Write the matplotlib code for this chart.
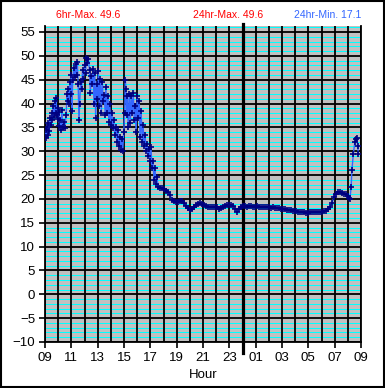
import matplotlib
matplotlib.use("Agg")
from matplotlib import pyplot as plt
from matplotlib.ticker import FixedLocator, MultipleLocator
from matplotlib.patches import Rectangle

## Data: hours since 09:00 and reading
hours = [0.00, 0.05, 0.10, 0.15, 0.20, 0.25, 0.30, 0.38, 0.45, 0.50, 0.55, 0.62, 0.68, 0.75,
         0.80, 0.85, 0.90, 0.95, 1.00, 1.05, 1.10, 1.15, 1.22, 1.28, 1.35, 1.42, 1.50, 1.60,
         1.68, 1.72, 1.78, 1.85, 1.90, 1.95, 2.00, 2.05, 2.10, 2.18, 2.25, 2.32, 2.40, 2.45,
         2.52, 2.58, 2.63, 2.70, 2.78, 2.85, 2.92, 3.00, 3.08, 3.15, 3.22, 3.30, 3.38, 3.45,
         3.52, 3.58, 3.65, 3.72, 3.78, 3.85, 3.92, 3.98, 4.05, 4.12, 4.20, 4.28, 4.35, 4.42,
         4.50, 4.58, 4.62, 4.70, 4.78, 4.85, 4.92, 5.00, 5.08, 5.15, 5.22, 5.30, 5.38, 5.45,
         5.52, 5.60, 5.68, 5.75, 5.82, 5.90, 5.98, 6.05, 6.10, 6.15, 6.20, 6.25, 6.32, 6.40,
         6.48, 6.55, 6.62, 6.70, 6.78, 6.85, 6.92, 7.00, 7.08, 7.15, 7.22, 7.30, 7.38, 7.45,
         7.52, 7.60, 7.68, 7.75, 7.82, 7.90, 7.97, 8.05, 8.12, 8.20, 8.28, 8.35, 8.42, 8.50,
         8.60, 8.75, 8.90, 9.05, 9.20, 9.35, 9.50, 9.65, 9.80, 9.95, 10.10, 10.25, 10.40, 10.55,
         10.70, 10.85, 11.00, 11.15, 11.30, 11.45, 11.60, 11.75, 11.90, 12.05, 12.20, 12.35,
         12.50, 12.65, 12.80, 12.95, 13.10, 13.25, 13.40, 13.55, 13.70, 13.85, 14.00, 14.15,
         14.30, 14.45, 14.60, 14.75, 14.90, 15.05, 15.20, 15.35, 15.50, 15.65, 15.80, 15.95,
         16.10, 16.25, 16.40, 16.55, 16.70, 16.85, 17.00, 17.15, 17.30, 17.45, 17.60, 17.75,
         17.90, 18.05, 18.20, 18.35, 18.50, 18.65, 18.80, 18.95, 19.10, 19.25, 19.40, 19.55,
         19.70, 19.85, 20.00, 20.15, 20.30, 20.45, 20.60, 20.75, 20.90, 21.05, 21.20, 21.35,
         21.50, 21.65, 21.80, 21.95, 22.10, 22.25, 22.40, 22.55, 22.70, 22.85, 23.00, 23.10,
         23.16, 23.25, 23.31, 23.42, 23.54, 23.62, 23.69, 23.75, 23.80]
values = [33.0, 34.5, 32.8, 35.0, 33.5, 36.0, 34.2, 37.0, 35.5, 38.0, 36.5, 39.5, 37.2, 40.5,
          38.0, 41.2, 37.5, 39.0, 36.8, 38.2, 35.2, 36.5, 34.5, 38.6, 35.0, 36.2, 34.8, 37.5,
          42.0, 40.5, 43.0, 39.8, 44.5, 42.0, 46.0, 38.5, 45.0, 47.5, 45.5, 48.2, 46.0, 48.7,
          44.0, 36.5, 40.0, 44.5, 43.0, 47.0, 45.2, 48.0, 46.5, 49.6, 48.5, 49.3, 47.0, 42.2,
          45.8, 44.0, 47.2, 40.0, 46.5, 37.0, 44.0, 41.0, 46.8, 39.5, 45.2, 38.0, 44.5, 40.5,
          41.8, 37.5, 43.5, 38.0, 41.5, 36.2, 39.8, 35.5, 38.0, 34.8, 36.5, 33.5, 35.0, 32.0,
          34.5, 31.0, 33.0, 30.2, 32.5, 30.0, 34.0, 38.0, 45.0, 43.0, 37.5, 41.5, 35.0, 42.0,
          36.0, 41.5, 38.0, 42.2, 36.5, 39.5, 34.0, 41.5, 37.0, 40.5, 33.0, 38.5, 32.0, 35.5,
          31.0, 33.5, 30.0, 31.5, 29.0, 30.5, 28.0, 30.8, 26.5, 28.0, 24.0, 26.5, 23.2, 24.5,
          22.4, 22.2, 22.3, 22.0, 21.6, 21.5, 20.8, 19.8, 19.5, 19.3, 19.4, 19.6, 19.5, 19.2,
          18.6, 18.0, 17.7, 17.9, 18.3, 18.8, 19.0, 19.1, 18.9, 18.8, 18.5, 18.4,
          18.3, 18.4, 18.4, 18.3, 18.2, 17.8, 18.0, 18.3, 18.6, 18.7, 18.7, 18.8,
          18.6, 17.8, 17.3, 17.9, 18.4, 18.5, 18.5, 18.4, 18.5, 18.5, 18.4, 18.4,
          18.5, 18.4, 18.3, 18.4, 18.2, 18.3, 18.2, 18.1, 18.2, 18.0, 18.1, 18.0,
          17.9, 17.8, 17.8, 17.7, 17.6, 17.6, 17.5, 17.4, 17.4, 17.3, 17.3, 17.2,
          17.2, 17.1, 17.1, 17.2, 17.2, 17.3, 17.2, 17.2, 17.2, 17.3, 17.4, 17.5,
          17.8, 18.4, 19.2, 20.3, 21.0, 21.4, 21.5, 21.3, 21.1, 21.0, 20.6, 20.2,
          20.0, 22.5, 26.0, 29.5, 32.0, 32.5, 32.8, 31.0, 29.5]

x_tick_pos = [0, 2, 4, 6, 8, 10, 12, 14, 16, 18, 20, 22, 24]
x_tick_labels = ["09", "11", "13", "15", "17", "19", "21", "23", "01", "03", "05", "07", "09"]
midnight = 15

titles = ["6hr-Max. 49.6", "24hr-Max. 49.6", "24hr-Min. 17.1"]

W, H = 385, 388
fig = plt.figure(figsize=(W / 100, H / 100), dpi=100)
plt.rcParams['font.family'] = ['Liberation Sans', 'DejaVu Sans']

ax = fig.add_axes([45 / W, 1 - 342 / H, 316 / W, 316 / H])
ax.set_facecolor("#c0c0c0")
ax.set_axisbelow(True)

ax.set_xlim(0, 24)
ax.set_ylim(-10, 56.25)

ax.xaxis.set_major_locator(FixedLocator(x_tick_pos))
ax.set_xticklabels(x_tick_labels)
ax.xaxis.set_minor_locator(MultipleLocator(1))
ax.yaxis.set_major_locator(MultipleLocator(5))

## cyan minor lines (drawn under the black grid)
cyan_levels = [v for v in range(-10, 57) if v % 5 != 0]
ax.hlines(cyan_levels, 0, 24, colors="#00ffff", linewidth=0.72, zorder=0.2)

ax.grid(which="major", color="black", linewidth=1.3)
ax.grid(which="minor", axis="x", color="black", linewidth=1.3)

ax.tick_params(which="major", direction="out", length=4, width=1.2, labelsize=9.5, pad=3)
ax.tick_params(which="minor", length=0)

for s in ["left", "bottom", "right"]:
    ax.spines[s].set_color("black")
    ax.spines[s].set_linewidth(1.3)
ax.spines["top"].set_visible(False)

ax.axvline(midnight, ymin=-0.035, ymax=1.006, color="black", linewidth=2.3, clip_on=False, zorder=3)

ax.plot(hours, values, color="#3366ff", linewidth=1.0, zorder=4)
ax.plot(hours, values, linestyle="none", marker="+", markersize=4, markeredgewidth=1.2,
        color="#000080", zorder=5)

ax.set_xlabel("Hour", fontsize=9.5, labelpad=4)

fig.text(88 / W, 1 - 15 / H, titles[0], color="red", fontsize=7.5, ha="center", va="center")
fig.text(228 / W, 1 - 15 / H, titles[1], color="red", fontsize=7.5, ha="center", va="center")
fig.text(361 / W, 1 - 15 / H, titles[2], color="#3366ff", fontsize=7.5, ha="right", va="center")

fig.patches.append(Rectangle((0.002, 0.002), 0.995, 0.995, transform=fig.transFigure,
                             fill=False, edgecolor="black", linewidth=1.5))

plt.savefig("out.png", dpi=100)
